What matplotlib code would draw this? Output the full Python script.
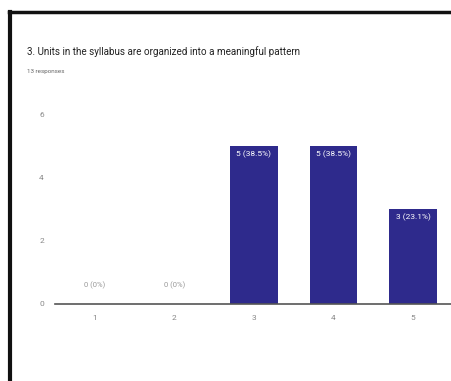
import matplotlib.pyplot as plt
from matplotlib.lines import Line2D

# --- Data ---
options   = [1, 2, 3, 4, 5]
counts    = [0, 0, 5, 5, 3]
percents  = ["0%", "0%", "38.5%", "38.5%", "23.1%"]
y_ticks   = [0, 2, 4, 6]
title     = "3. Units in the syllabus are organized into a meaningful pattern"
subtitle  = "13 responses"

bar_color = "#2e2a8c"
narrow = ["Roboto", "DejaVu Sans"]

fig = plt.figure(figsize=(4.52, 3.81), dpi=100)

# --- Axes placed in pixel terms ---
W, H = 452, 381
left, right, y0, ytop = 55, 453, 304, 105.5
ax = fig.add_axes([left / W, (H - y0) / H, (right - left) / W, (y0 - ytop) / H])

ax.bar(options, counts, width=0.6, color=bar_color, zorder=2)
ax.set_xlim(0.5, 5.5)
ax.set_ylim(0, 6.3)

for x, c, p in zip(options, counts, percents):
    label = f"{c} ({p})"
    if c == 0:
        ax.annotate(label, (x, 0), xytext=(0, 11), textcoords="offset points",
                    ha="center", va="bottom", fontsize=5.5, color="#999999",
                    family=narrow)
    else:
        ax.annotate(label, (x, c), xytext=(0, -3), textcoords="offset points",
                    ha="center", va="top", fontsize=6, color="white",
                    family=narrow)

ax.set_xticks(options)
ax.set_yticks(y_ticks)
ax.tick_params(length=0, labelsize=6, labelcolor="#888888", pad=8)
for lab in ax.get_xticklabels() + ax.get_yticklabels():
    lab.set_family(narrow)

for side in ["top", "right", "left"]:
    ax.spines[side].set_visible(False)
ax.spines["bottom"].set_color("#555555")
ax.spines["bottom"].set_linewidth(1.2)

# --- Titles ---
fig.text(27 / W, 1 - 52 / H, title, fontsize=7.1, color="#222222",
         va="center", ha="left", family=narrow)
fig.text(27 / W, 1 - 71 / H, subtitle, fontsize=4.5, color="#666666",
         va="center", ha="left", family=narrow)

# --- Frame border (top and left) ---
fig.add_artist(Line2D([9.5 / W, 9.5 / W], [0, 1 - 12 / H],
                      color="#111111", linewidth=3, transform=fig.transFigure))
fig.add_artist(Line2D([8.5 / W, 1], [1 - 12 / H, 1 - 12 / H],
                      color="#111111", linewidth=2.5, transform=fig.transFigure))

plt.savefig("out.png", dpi=100)
